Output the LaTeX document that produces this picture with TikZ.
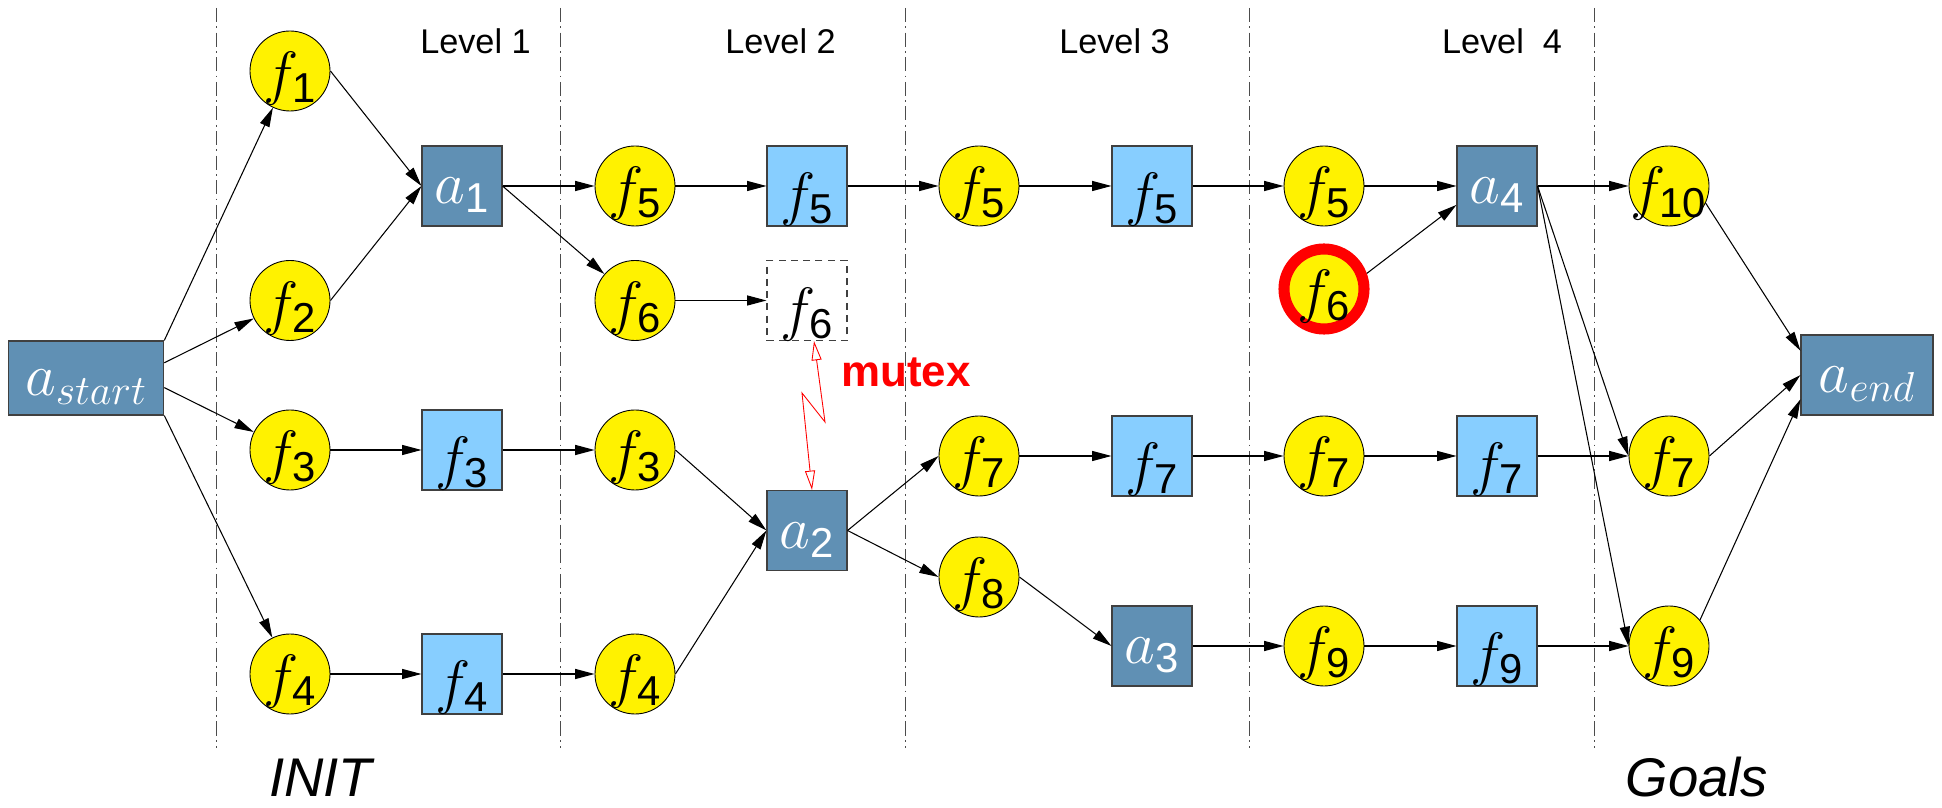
\RequirePackage{fix-cm}
\documentclass[tikz,border=0pt]{standalone}
\usepackage{fontspec}
\setsansfont{Liberation Sans}
\usetikzlibrary{arrows.meta}

\definecolor{actblue}{RGB}{96,144,180}
\definecolor{noopblue}{RGB}{135,206,255}

\tikzstyle{fact}=[circle,draw=black,fill=yellow,minimum size=1.6cm,inner sep=0pt,line width=0.5pt,font=\fontsize{34}{36}\selectfont,text height=1.12cm,text depth=0.2cm]
\tikzstyle{marked fact}=[fact,draw=red,line width=6.3pt]
\tikzstyle{noop}=[rectangle,draw=black!75,fill=noopblue,minimum size=1.6cm,inner sep=0pt,line width=0.6pt,font=\fontsize{34}{36}\selectfont,text height=1.36cm,text depth=0.2cm]
\tikzstyle{ghost noop}=[noop,fill=none,dashed,dash pattern=on 4pt off 3pt]
\tikzstyle{action}=[rectangle,draw=black!75,fill=actblue,text=white,minimum size=1.6cm,inner sep=0pt,line width=0.6pt,font=\fontsize{34}{36}\selectfont,text height=0.92cm,text depth=0.2cm]
\tikzstyle{edge}=[draw,line width=0.6pt,-{Triangle[length=11pt,width=5.7pt]}]
\tikzstyle{mutex edge}=[draw=red,line width=0.5pt,{Triangle[open,length=11pt,width=5.7pt]}-{Triangle[open,length=11pt,width=5.7pt]}]
\tikzstyle{separator}=[draw=black!70,line width=0.5pt,dash pattern=on 8pt off 2.5pt on 1pt off 2.5pt]
\tikzstyle{lvltext}=[anchor=base,font=\sffamily\fontsize{19.5}{22}\selectfont]
\tikzstyle{phase}=[anchor=base,inner sep=0pt,font=\sffamily\itshape\fontsize{31}{33}\selectfont]

\begin{document}
\begin{tikzpicture}
     \useasboundingbox (0,0) rectangle (38.84,16.16);

     % level separators and captions
     \foreach \x in {4.32,11.20,18.10,24.98,31.88}
     \path[separator] (\x,16.0) -- (\x,1.2);
     \foreach \x/\t [count=\k] in {9.51/Level 1, 15.61/Level 2, 22.29/Level 3, 30.04/Level~~4}
     \node[lvltext] (lvl\k) at (\x,15.08) {\t};
     \node[phase] (init) at (6.41,0.22) {INIT};
     \node[phase] (goals) at (33.94,0.22) {Goals};

     % fact nodes (zero-width label so f10 may stick out of its circle)
     \foreach \pos/\name/\i in {{(5.80,14.74)/f1l0/1}, {(5.80,10.15)/f2l0/2},
       {(5.80,7.16)/f3l0/3}, {(5.80,2.68)/f4l0/4},
       {(12.70,12.44)/f5l1/5}, {(12.70,10.15)/f6l1/6},
       {(12.70,7.16)/f3l1/3}, {(12.70,2.68)/f4l1/4},
       {(19.58,12.44)/f5l2/5}, {(19.58,7.04)/f7l2/7}, {(19.58,4.62)/f8l2/8},
       {(26.48,12.44)/f5l3/5}, {(26.48,7.04)/f7l3/7}, {(26.48,3.24)/f9l3/9},
       {(33.38,12.44)/f10l4/10}, {(33.38,7.04)/f7l4/7}, {(33.38,3.24)/f9l4/9}}
     \node[fact] (\name) at \pos {\makebox[0pt]{$f_{\mathsf{\i}}$}};
     \node[marked fact] (f6l3) at (26.48,10.38) {\makebox[0pt]{$f_{\mathsf{6}}$}};

     % no-op nodes
     \foreach \pos/\name/\i in {{(9.24,7.16)/n3l1/3}, {(9.24,2.68)/n4l1/4},
       {(16.14,12.44)/n5l2/5}, {(23.04,12.44)/n5l3/5}, {(23.04,7.04)/n7l3/7},
       {(29.94,7.04)/n7l4/7}, {(29.94,3.24)/n9l4/9}}
     \node[noop] (\name) at \pos {$f_{\mathsf{\i}}$};
     \node[ghost noop] (n6l2) at (16.14,10.15) {$f_{\mathsf{6}}$};

     % actions
     \foreach \pos/\name/\i in {{(9.24,12.44)/a1/1}, {(16.14,5.55)/a2/2},
       {(23.04,3.24)/a3/3}, {(29.94,12.44)/a4/4}}
     \node[action] (\name) at \pos {$a_{\mathsf{\i}}$};
     \node[action,minimum width=3.11cm,minimum height=1.48cm] (astart) at (1.72,8.60) {$a_{start}$};
     \node[action,minimum width=2.64cm,minimum height=1.6cm] (aend) at (37.34,8.66) {$a_{end}$};

     % connect everything
     \foreach \source/\dest in {astart.north east/f1l0, astart.11/f2l0, astart.-7/f3l0,
       astart.south east/f4l0, f1l0.east/a1.west, f2l0.east/a1.west,
       f3l0/n3l1, n3l1/f3l1, f4l0/n4l1, n4l1/f4l1,
       a1.east/f5l1, a1.east/f6l1, f5l1/n5l2, n5l2/f5l2, f6l1/n6l2,
       f3l1.east/a2.west, f4l1.east/a2.west, a2.east/f7l2.west, a2.east/f8l2.west,
       f5l2/n5l3, n5l3/f5l3, f7l2/n7l3, n7l3/f7l3, f8l2.east/a3.west, a3/f9l3,
       f5l3/a4, f6l3.20/a4.205, f7l3/n7l4, n7l4/f7l4, f9l3/n9l4, n9l4/f9l4,
       a4.east/f10l4, a4.east/f7l4.west, a4.east/f9l4.west,
       f10l4.-25/aend.160, f7l4.east/aend.west, f9l4.40/aend.200}
     \path[edge] (\source) -- (\dest);

     % mutex between the ghost no-op and a2
     \coordinate (zigA) at (16.50,7.72);
     \coordinate (zigB) at (16.04,8.30);
     \path[mutex edge] ([xshift=0.14cm]n6l2.south) -- (zigA) -- (zigB) -- ([xshift=0.10cm]a2.north);
     \node[anchor=base,text=red,font=\sffamily\bfseries\fontsize{25}{28}\selectfont] (mtx) at (18.12,8.42) {mutex};
   \end{tikzpicture}
\end{document}
